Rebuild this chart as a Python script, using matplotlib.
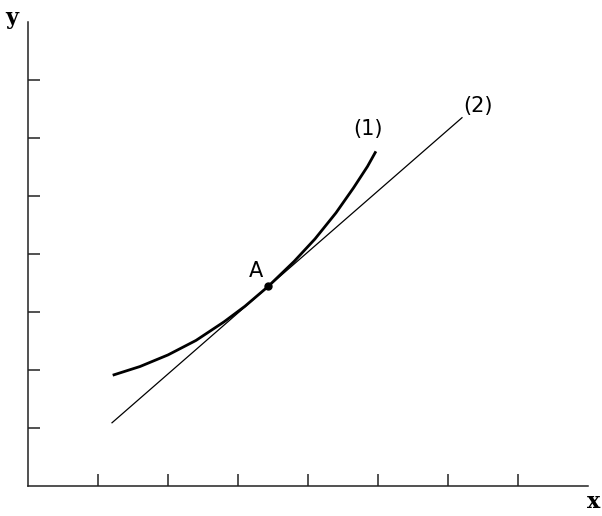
import matplotlib.pyplot as plt

# curve (1) (tick units)
curve_x = [1.21, 1.60, 2.00, 2.40, 2.80, 3.10, 3.43, 3.80, 4.10, 4.40, 4.65, 4.85, 4.97]
curve_y = [1.91, 2.06, 2.26, 2.51, 2.83, 3.10, 3.44, 3.87, 4.26, 4.71, 5.14, 5.51, 5.77]

# tangent line (2)
line_x = [1.2, 6.2]
line_y = [1.09, 6.35]

# point A
ax_pt = 3.43
ay_pt = 3.44

xticks = [1, 2, 3, 4, 5, 6, 7]
yticks = [1, 2, 3, 4, 5, 6, 7]

fig = plt.figure(figsize=(6.02, 5.16), dpi=100)
ax = fig.add_axes([28/602, 30/516, 560/602, 464/516])

ax.plot(curve_x, curve_y, color='black', lw=2.0, solid_capstyle='butt',
        solid_joinstyle='round')
ax.plot(line_x, line_y, color='black', lw=0.9)
ax.plot([ax_pt], [ay_pt], 'o', color='black', markersize=5)

ax.text(ax_pt - 0.17, ay_pt + 0.27, 'A', fontsize=15, ha='center', va='center')
ax.text(4.86, 6.16, '(1)', fontsize=15, ha='center', va='center')
ax.text(6.43, 6.56, '(2)', fontsize=15, ha='center', va='center')

ax.set_xlim(0, 8)
ax.set_ylim(0, 8)
ax.set_xticks(xticks)
ax.set_yticks(yticks)
ax.set_xticklabels([])
ax.set_yticklabels([])
ax.tick_params(direction='in', length=8.5, width=1.1, color='#222222')
ax.spines['top'].set_visible(False)
ax.spines['right'].set_visible(False)
for s in ['left', 'bottom']:
    ax.spines[s].set_linewidth(1.1)
    ax.spines[s].set_color('#222222')

fig.text(12/602, 1 - 18/516, 'y', fontsize=16, fontweight='bold', family='serif',
         ha='center', va='center')
fig.text(594/602, 1 - 502/516, 'x', fontsize=16, fontweight='bold', family='serif',
         ha='center', va='center')

fig.savefig('out.png', dpi=100)
